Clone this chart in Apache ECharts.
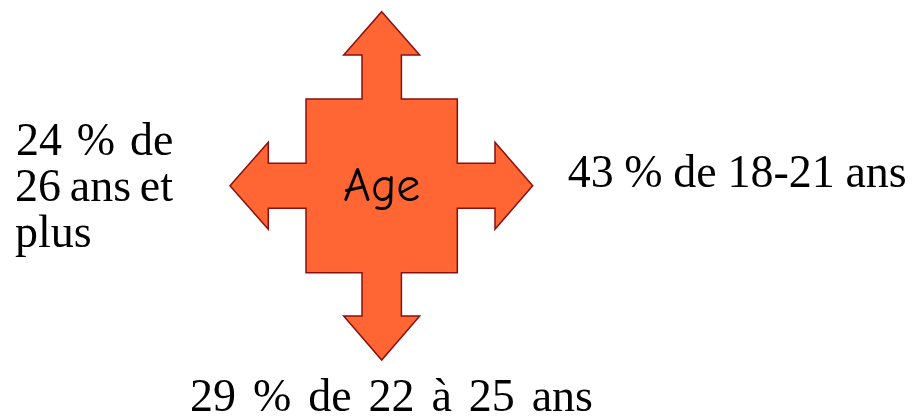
<!DOCTYPE html>
<html>
<head>
<meta charset="utf-8">
<script src="https://cdn.jsdelivr.net/npm/echarts@6/dist/echarts.min.js"></script>
<style>
  html, body { margin: 0; padding: 0; background: #fff; }
  #main { width: 914px; height: 418px; }
</style>
</head>
<body>
<div id="main"></div>
<script>
// données
const centerLabel = 'Age'
const ageGroups = ['18-21 ans', '22 à 25 ans', '26 ans et plus']
const agePercents = [43, 29, 24]

const chartObj = echarts.init(document.getElementById('main'))

// forme de la flèche à 4 branches (centre cx, cy)
const cx = 381.7
const cy = 185.7
function crossArrow() {
  const sq = { l: 306, r: 457.3, t: 99, b: 272.7 }
  const shaftH = 19.7 // demi-largeur flèches verticales
  const shaftV = 22.5 // demi-largeur flèches horizontales
  const head = 38 // demi-largeur pointe verticale
  const headH = 43.5 // demi-largeur pointe horizontale
  return [
    [cx, 11.7], [cx + head, 55], [cx + shaftH, 55], [cx + shaftH, sq.t],
    [sq.r, sq.t], [sq.r, cy - shaftV], [495, cy - shaftV], [495, cy - headH],
    [532.7, cy], [495, cy + headH], [495, cy + shaftV], [sq.r, cy + shaftV],
    [sq.r, sq.b], [cx + shaftH, sq.b], [cx + shaftH, 316], [cx + head, 316],
    [cx, 360], [cx - head, 316], [cx - shaftH, 316], [cx - shaftH, sq.b],
    [sq.l, sq.b], [sq.l, cy + shaftV], [268.3, cy + shaftV], [268.3, cy + headH],
    [230, cy], [268.3, cy - headH], [268.3, cy - shaftV], [sq.l, cy - shaftV],
    [sq.l, sq.t], [cx - shaftH, sq.t], [cx - shaftH, 55], [cx - head, 55]
  ]
}

const fontSize = 46
const fontFamily = 'Liberation Serif'

// textes justifiés entre x0 et x1 (x1 null = aligné à gauche)
const labels = [
  { text: agePercents[0] + ' % de ' + ageGroups[0], y: 175, x0: 567.7, x1: 906.7 },
  { text: agePercents[1] + ' % de ' + ageGroups[1], y: 398.5, x0: 190, x1: 593 },
  { text: agePercents[2] + ' % de', y: 142.5, x0: 16, x1: 173.3 },
  { text: '26 ans et', y: 188.5, x0: 15, x1: 173 },
  { text: 'plus', y: 234.5, x0: 15, x1: null }
]

const ctx = document.createElement('canvas').getContext('2d')
ctx.font = fontSize + 'px "' + fontFamily + '"'

const wordItems = []
labels.forEach(lab => {
  const words = lab.text.split(' ')
  const widths = words.map(w => ctx.measureText(w).width)
  const total = widths.reduce((a, b) => a + b, 0)
  const gap = lab.x1 == null || words.length < 2
    ? 0
    : (lab.x1 - lab.x0 - total) / (words.length - 1)
  let x = lab.x0
  words.forEach((word, i) => {
    wordItems.push({
      type: 'text',
      x: x,
      y: lab.y,
      style: {
        text: word,
        fontFamily: fontFamily,
        fontSize: fontSize,
        fill: '#000',
        verticalAlign: 'middle'
      }
    })
    x += widths[i] + gap
  })
})

const option = {
  backgroundColor: '#fff',
  graphic: [
    {
      type: 'polygon',
      shape: { points: crossArrow() },
      style: { fill: '#ff6633', stroke: '#8b0f0f', lineWidth: 1.5 }
    },
    {
      type: 'text',
      x: cx,
      y: 187,
      style: {
        text: centerLabel,
        fontFamily: '"Comic Sans MS", "Comic Neue", cursive',
        fontSize: 48,
        fill: '#000',
        align: 'center',
        verticalAlign: 'middle'
      }
    }
  ].concat(wordItems)
}

chartObj.setOption(option, true)
</script>
</body>
</html>
